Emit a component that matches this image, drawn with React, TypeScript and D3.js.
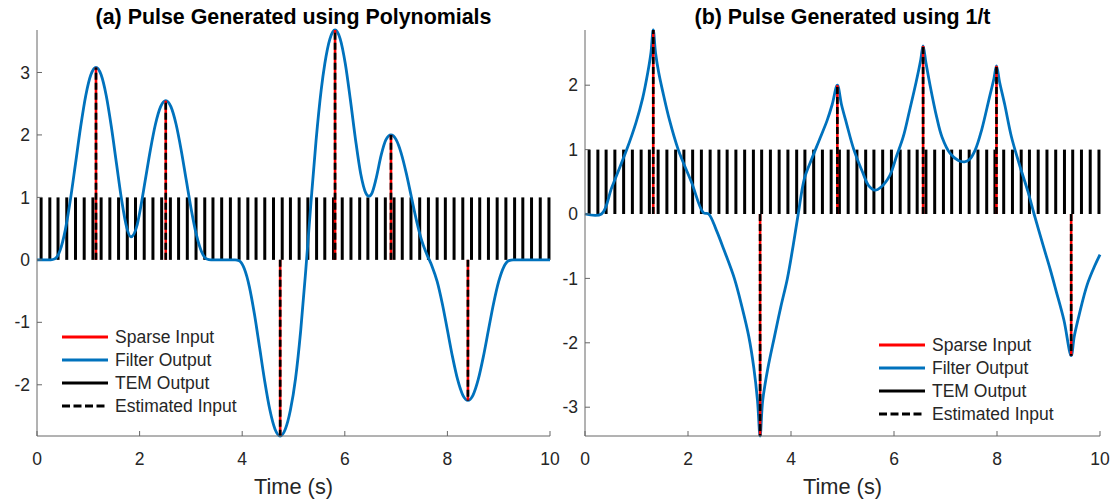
import React from 'react';
import * as d3 from 'd3';

// ---------- data ----------
const temTimes = [
  0.08, 0.25, 0.41, 0.58, 0.75, 0.92, 1.09, 1.25, 1.42, 1.59,
  1.76, 1.92, 2.09, 2.26, 2.43, 2.60, 2.76, 2.93, 3.10, 3.27,
  3.43, 3.60, 3.77, 3.94, 4.11, 4.27, 4.44, 4.61, 4.78, 4.94,
  5.11, 5.28, 5.45, 5.61, 5.78, 5.95, 6.12, 6.29, 6.45, 6.62,
  6.79, 6.96, 7.12, 7.29, 7.46, 7.63, 7.80, 7.96, 8.13, 8.30,
  8.47, 8.63, 8.80, 8.97, 9.14, 9.31, 9.47, 9.64, 9.81, 9.98,
];

const spikeTimesA = [1.15, 2.51, 4.74, 5.81, 6.90, 8.40];
const spikeAmpsA = [3.08, 2.55, -2.82, 3.68, 2.0, -2.25];

const spikeTimesB = [1.325, 3.40, 4.90, 6.565, 7.99, 9.44];
const spikeAmpsB = [2.857, -3.447, 2.0, 2.61, 2.30, -2.2];

const filterA: [number, number][] = [
  [0, 0], [0.27, 0], [0.35, 0.016], [0.45, 0.152], [0.55, 0.472], [0.65, 0.957],
  [0.75, 1.538], [0.85, 2.126], [0.95, 2.627], [1.05, 2.962], [1.15, 3.08],
  [1.25, 2.962], [1.35, 2.627], [1.45, 2.126], [1.55, 1.538], [1.65, 0.957],
  [1.75, 0.514], [1.83, 0.368], [1.95, 0.553], [2.01, 0.792], [2.11, 1.273],
  [2.21, 1.76], [2.31, 2.175], [2.41, 2.453], [2.51, 2.55], [2.61, 2.453],
  [2.71, 2.175], [2.81, 1.76], [2.91, 1.273], [3.01, 0.792], [3.11, 0.391],
  [3.21, 0.126], [3.31, 0.013], [3.39, 0], [3.86, 0], [3.94, -0.015],
  [4.04, -0.14], [4.14, -0.432], [4.24, -0.876], [4.34, -1.408], [4.44, -1.947],
  [4.54, -2.405], [4.64, -2.712], [4.74, -2.82], [4.84, -2.712], [4.94, -2.405],
  [5.04, -1.9], [5.14, -1.135], [5.24, -0.156], [5.34, 0.912], [5.44, 1.913],
  [5.54, 2.721], [5.61, 3.139], [5.71, 3.539], [5.81, 3.68], [5.91, 3.539],
  [6.01, 3.139], [6.11, 2.555], [6.21, 1.92], [6.31, 1.38], [6.41, 1.07],
  [6.47, 1.02], [6.53, 1.07], [6.61, 1.3], [6.71, 1.68], [6.8, 1.92],
  [6.9, 2.0], [7.0, 1.924], [7.1, 1.706], [7.2, 1.381], [7.3, 0.999],
  [7.4, 0.621], [7.5, 0.306], [7.6, 0.087], [7.7, -0.101], [7.8, -0.345],
  [7.9, -0.699], [8.0, -1.124], [8.1, -1.553], [8.2, -1.919], [8.3, -2.164],
  [8.4, -2.25], [8.5, -2.164], [8.6, -1.919], [8.7, -1.553], [8.8, -1.124],
  [8.9, -0.699], [9.0, -0.345], [9.1, -0.111], [9.2, -0.012], [9.28, 0], [10, 0],
];

const filterB: [number, number][] = [
  [0, 0], [0.32, 0], [0.52, 0.41], [0.81, 1.0], [0.99, 1.42], [1.12, 1.8],
  [1.22, 2.2], [1.28, 2.5], [1.325, 2.857], [1.37, 2.5], [1.43, 2.2],
  [1.51, 1.9], [1.64, 1.46], [1.81, 1.0], [2.07, 0.49], [2.3, 0.02],
  [2.4, 0], [2.55, -0.25], [2.7, -0.56], [2.9, -1.0], [3.05, -1.45],
  [3.18, -1.9], [3.28, -2.4], [3.35, -2.9], [3.40, -3.447], [3.45, -2.9],
  [3.55, -2.4], [3.68, -1.9], [3.8, -1.45], [3.93, -1.0], [4.04, -0.5],
  [4.14, 0], [4.26, 0.55], [4.4, 0.85], [4.55, 1.15], [4.7, 1.45],
  [4.8, 1.7], [4.9, 2.0], [4.98, 1.7], [5.08, 1.4], [5.22, 1.0],
  [5.4, 0.63], [5.5, 0.45], [5.63, 0.37], [5.75, 0.42], [5.92, 0.6],
  [6.05, 0.9], [6.18, 1.2], [6.3, 1.6], [6.43, 2.05], [6.52, 2.4],
  [6.565, 2.61], [6.62, 2.35], [6.7, 2.0], [6.83, 1.5], [6.93, 1.2],
  [7.09, 0.94], [7.25, 0.83], [7.37, 0.81], [7.47, 0.85], [7.58, 1.0],
  [7.7, 1.3], [7.85, 1.8], [7.94, 2.1], [7.99, 2.3], [8.05, 2.05],
  [8.15, 1.7], [8.28, 1.2], [8.45, 0.73], [8.6, 0.35], [8.72, 0],
  [8.9, -0.5], [9.03, -0.85], [9.15, -1.2], [9.3, -1.65], [9.44, -2.2],
  [9.5, -1.9], [9.6, -1.55], [9.75, -1.1], [9.9, -0.8], [10, -0.63],
];

const xTicks = [0, 2, 4, 6, 8, 10];
const yTicksA = [-2, -1, 0, 1, 2, 3];
const yTicksB = [-3, -2, -1, 0, 1, 2];
const legendLabels = ['Sparse Input', 'Filter Output', 'TEM Output', 'Estimated Input'];
const titleA = '(a) Pulse Generated using Polynomials';
const titleB = '(b) Pulse Generated using 1/t';
const xLabel = 'Time (s)';

// ---------- styles ----------
const BLUE = '#0072BD';
const RED = '#FF0000';
const TXT = '#262626';
const AXIS = '#666666';
const FONT = 'Arial, "Liberation Sans", Helvetica, sans-serif';

type PanelProps = {
  x0: number; x1: number; y0: number; y1: number;
  title: string;
  filter: [number, number][];
  spikeT: number[]; spikeA: number[];
  yTicks: number[];
  smooth: 'mono' | 'cr';
  legendX: number; legendY: number;
};

function Panel(p: PanelProps) {
  const x = d3.scaleLinear().domain([0, 10]).range([p.x0, p.x1]);
  const vals = p.filter.map(d => d[1]).concat(p.spikeA);
  const ext = d3.extent(vals) as [number, number];
  const y = d3.scaleLinear().domain(ext).range([p.y1, p.y0]);
  const line = d3.line<[number, number]>()
    .x(d => x(d[0])).y(d => y(d[1]))
    .curve(p.smooth === 'mono' ? d3.curveMonotoneX : d3.curveCatmullRom.alpha(0.5));
  const cx = (p.x0 + p.x1) / 2;
  const tick = 5;
  return (
    <g>
      {/* TEM output */}
      {temTimes.map((t, i) => (
        <line key={'tem' + i} x1={x(t)} x2={x(t)} y1={y(0)} y2={y(1)} stroke="#000" strokeWidth={3} />
      ))}
      {/* filter output */}
      <path d={line(p.filter) || ''} fill="none" stroke={BLUE} strokeWidth={2.8} strokeLinejoin="round" />
      {/* sparse input */}
      {p.spikeT.map((t, i) => (
        <line key={'sp' + i} x1={x(t)} x2={x(t)} y1={y(0)} y2={y(p.spikeA[i])} stroke={RED} strokeWidth={2.6} />
      ))}
      {/* estimated input */}
      {p.spikeT.map((t, i) => (
        <line key={'es' + i} x1={x(t)} x2={x(t)} y1={y(0)} y2={y(p.spikeA[i])} stroke="#000" strokeWidth={2.6} strokeDasharray="7,3" />
      ))}
      {/* axes */}
      <line x1={p.x0} x2={p.x1} y1={p.y1} y2={p.y1} stroke={AXIS} strokeWidth={1} />
      <line x1={p.x0} x2={p.x0} y1={p.y0} y2={p.y1} stroke={AXIS} strokeWidth={1} />
      {xTicks.map(v => (
        <g key={'xt' + v}>
          <line x1={x(v)} x2={x(v)} y1={p.y1} y2={p.y1 - tick} stroke={AXIS} strokeWidth={1} />
          <text x={x(v)} y={p.y1 + 29} textAnchor="middle" fontSize={17.5} fill={TXT} fontFamily={FONT}>{String(v)}</text>
        </g>
      ))}
      {p.yTicks.map(v => (
        <g key={'yt' + v}>
          <line x1={p.x0} x2={p.x0 + tick} y1={y(v)} y2={y(v)} stroke={AXIS} strokeWidth={1} />
          <text x={p.x0 - 7} y={y(v)} dy="0.35em" textAnchor="end" fontSize={17.5} fill={TXT} fontFamily={FONT}>{String(v)}</text>
        </g>
      ))}
      <text x={cx} y={p.y1 + 58} textAnchor="middle" fontSize={21.8} fill={TXT} fontFamily={FONT}>{xLabel}</text>
      <text x={cx} y={24} textAnchor="middle" fontSize={21.4} fontWeight="bold" fill="#000" fontFamily={FONT}>{p.title}</text>
      {/* legend */}
      {legendLabels.map((lab, i) => {
        const ly = p.legendY + i * 23;
        const lx = p.legendX;
        return (
          <g key={'lg' + i}>
            {i === 0 && <line x1={lx} x2={lx + 46} y1={ly} y2={ly} stroke={RED} strokeWidth={3} />}
            {i === 1 && <line x1={lx} x2={lx + 46} y1={ly} y2={ly} stroke={BLUE} strokeWidth={3} />}
            {i === 2 && <line x1={lx} x2={lx + 46} y1={ly} y2={ly} stroke="#000" strokeWidth={3} />}
            {i === 3 && <line x1={lx} x2={lx + 46} y1={ly} y2={ly} stroke="#000" strokeWidth={3} strokeDasharray="8,3.5" />}
            <text x={lx + 53} y={ly} dy="0.35em" fontSize={17.5} fill={TXT} fontFamily={FONT}>{lab}</text>
          </g>
        );
      })}
    </g>
  );
}

export default function App() {
  return (
    <svg width={1112} height={499} style={{ position: 'absolute', left: 0, top: 0, background: '#fff' }}>
      <rect x={0} y={0} width={1112} height={499} fill="#fff" />
      <Panel x0={37} x1={550} y0={30} y1={436} title={titleA} filter={filterA}
        spikeT={spikeTimesA} spikeA={spikeAmpsA} yTicks={yTicksA} smooth="mono"
        legendX={62} legendY={337} />
      <Panel x0={585} x1={1100} y0={30} y1={436} title={titleB} filter={filterB}
        spikeT={spikeTimesB} spikeA={spikeAmpsB} yTicks={yTicksB} smooth="cr"
        legendX={879} legendY={345} />
    </svg>
  );
}
